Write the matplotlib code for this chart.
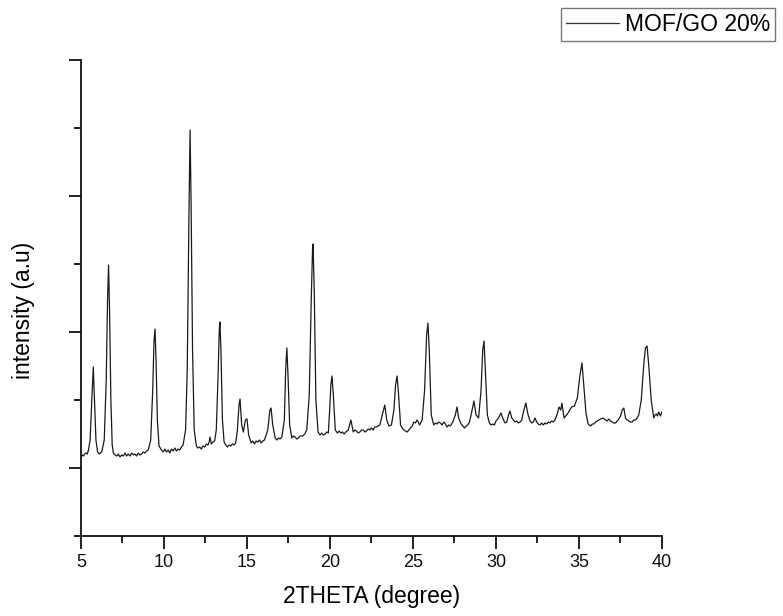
import matplotlib
matplotlib.use("Agg")
import matplotlib.pyplot as plt
from matplotlib.ticker import MultipleLocator

plt.rcParams['font.family'] = ['Liberation Sans', 'DejaVu Sans']

series_label = "MOF/GO 20%"
x_label = "2THETA (degree)"
y_label = "intensity (a.u)"

two_theta = [
    5.00, 5.08, 5.15, 5.22, 5.30, 5.38, 5.45, 5.55, 5.65, 5.74, 5.82, 5.90, 6.00, 6.10, 6.18, 6.25,
    6.40, 6.52, 6.60, 6.66, 6.72, 6.80, 6.88, 6.95, 7.05, 7.15, 7.25, 7.35, 7.45, 7.55, 7.65, 7.75,
    7.85, 7.95, 8.05, 8.15, 8.25, 8.35, 8.45, 8.55, 8.65, 8.75, 8.85, 8.95, 9.05, 9.20, 9.32, 9.40,
    9.46, 9.52, 9.60, 9.70, 9.85, 9.95, 10.05, 10.15, 10.25, 10.35, 10.45, 10.55, 10.65, 10.75, 10.85, 10.95,
    11.05, 11.15, 11.30, 11.40, 11.50, 11.57, 11.63, 11.72, 11.82, 11.95, 12.05, 12.15, 12.25, 12.35, 12.45, 12.55,
    12.65, 12.72, 12.77, 12.85, 12.95, 13.05, 13.15, 13.25, 13.33, 13.37, 13.43, 13.52, 13.62, 13.72, 13.82, 13.92,
    14.02, 14.12, 14.22, 14.32, 14.42, 14.52, 14.58, 14.68, 14.78, 14.90, 15.00, 15.10, 15.25, 15.35, 15.45, 15.55,
    15.65, 15.75, 15.85, 15.95, 16.05, 16.25, 16.38, 16.45, 16.55, 16.70, 16.80, 16.90, 17.00, 17.10, 17.25, 17.33,
    17.40, 17.47, 17.57, 17.70, 17.80, 17.90, 18.00, 18.10, 18.20, 18.35, 18.48, 18.60, 18.75, 18.87, 18.95, 18.98,
    19.05, 19.15, 19.28, 19.40, 19.50, 19.60, 19.70, 19.80, 19.90, 19.98, 20.05, 20.12, 20.20, 20.32, 20.45, 20.55,
    20.65, 20.75, 20.85, 20.95, 21.10, 21.26, 21.40, 21.50, 21.60, 21.70, 21.80, 21.90, 22.00, 22.10, 22.20, 22.30,
    22.40, 22.50, 22.60, 22.70, 22.80, 22.90, 23.00, 23.15, 23.30, 23.42, 23.55, 23.70, 23.85, 23.95, 24.04, 24.12,
    24.25, 24.35, 24.45, 24.55, 24.65, 24.75, 24.85, 24.95, 25.05, 25.15, 25.24, 25.32, 25.40, 25.55, 25.70, 25.82,
    25.90, 25.98, 26.10, 26.25, 26.35, 26.45, 26.55, 26.65, 26.75, 26.85, 26.95, 27.05, 27.15, 27.25, 27.40, 27.55,
    27.65, 27.75, 27.90, 28.00, 28.10, 28.20, 28.30, 28.40, 28.50, 28.67, 28.80, 28.95, 29.10, 29.20, 29.28, 29.36,
    29.48, 29.60, 29.70, 29.80, 29.90, 30.00, 30.15, 30.30, 30.45, 30.55, 30.65, 30.75, 30.84, 30.95, 31.05, 31.15,
    31.25, 31.35, 31.45, 31.55, 31.65, 31.80, 31.92, 32.05, 32.15, 32.25, 32.35, 32.45, 32.55, 32.65, 32.75, 32.85,
    32.95, 33.05, 33.15, 33.25, 33.35, 33.45, 33.55, 33.65, 33.80, 33.90, 33.97, 34.10, 34.20, 34.30, 34.45, 34.55,
    34.72, 34.90, 35.05, 35.18, 35.30, 35.42, 35.55, 35.70, 35.80, 35.90, 36.00, 36.10, 36.20, 36.30, 36.45, 36.60,
    36.70, 36.80, 36.90, 37.00, 37.10, 37.20, 37.30, 37.40, 37.50, 37.60, 37.70, 37.80, 37.90, 38.00, 38.10, 38.20,
    38.30, 38.40, 38.50, 38.60, 38.75, 38.90, 39.00, 39.10, 39.20, 39.35, 39.50, 39.58, 39.65, 39.72, 39.80, 39.90,
    40.00,
]

intensity = [
    11, 13, 12, 14, 15, 14, 18, 28, 68, 101, 63, 28, 16, 14, 15, 16,
    28, 88, 168, 203, 158, 68, 23, 15, 13, 12, 14, 11, 13, 12, 15, 12,
    14, 12, 15, 13, 14, 12, 15, 13, 14, 16, 15, 17, 18, 28, 78, 128,
    139, 108, 48, 22, 18, 16, 19, 16, 18, 15, 19, 17, 20, 17, 19, 18,
    21, 23, 38, 98, 248, 338, 268, 118, 38, 22, 20, 21, 19, 22, 21, 24,
    23, 26, 31, 24, 26, 27, 38, 88, 138, 146, 118, 48, 26, 23, 21, 23,
    22, 24, 23, 25, 38, 63, 69, 43, 36, 48, 49, 33, 25, 27, 24, 27,
    26, 28, 25, 27, 28, 38, 58, 60, 43, 30, 28, 30, 29, 31, 48, 98,
    120, 93, 43, 30, 32, 31, 29, 30, 32, 32, 34, 38, 73, 168, 220, 224,
    178, 68, 36, 33, 35, 33, 34, 36, 35, 58, 83, 92, 73, 38, 35, 37,
    35, 36, 34, 36, 38, 48, 36, 38, 37, 35, 36, 38, 38, 36, 37, 39,
    38, 40, 38, 41, 41, 42, 43, 53, 63, 48, 42, 43, 58, 83, 92, 76,
    43, 40, 38, 37, 36, 38, 40, 42, 46, 45, 48, 46, 43, 48, 78, 133,
    145, 118, 53, 43, 45, 44, 46, 45, 43, 46, 44, 41, 43, 42, 46, 53,
    61, 50, 44, 42, 40, 42, 43, 46, 53, 67, 53, 50, 78, 118, 127, 98,
    53, 45, 43, 44, 43, 47, 50, 55, 48, 45, 46, 53, 57, 50, 48, 46,
    47, 45, 46, 48, 56, 65, 54, 47, 45, 46, 50, 46, 44, 43, 45, 43,
    45, 44, 46, 45, 47, 46, 48, 52, 61, 58, 65, 50, 52, 54, 58, 61,
    62, 70, 92, 105, 80, 55, 44, 42, 44, 44, 46, 47, 48, 49, 50, 48,
    47, 49, 47, 46, 45, 45, 47, 49, 52, 58, 60, 50, 48, 47, 46, 46,
    48, 48, 50, 53, 68, 103, 120, 122, 103, 68, 50, 53, 54, 52, 56, 52,
    56,
]

fig = plt.figure(figsize=(7.83, 6.16), dpi=100)
ax = fig.add_axes([81 / 783, 80 / 616, (662 - 81) / 783, (536 - 60) / 616])

line, = ax.plot(two_theta, intensity, color="#1a1a1a", lw=0.9, label=series_label)

ax.set_xlim(5, 40)
ax.set_ylim(-68, 408)
ax.xaxis.set_major_locator(MultipleLocator(5))
ax.xaxis.set_minor_locator(MultipleLocator(2.5))
ax.yaxis.set_major_locator(MultipleLocator(136))
ax.yaxis.set_minor_locator(MultipleLocator(68))

for s in ["top", "right"]:
    ax.spines[s].set_visible(False)
for s in ["left", "bottom"]:
    ax.spines[s].set_linewidth(1.3)
    ax.spines[s].set_color("#111111")

ax.tick_params(axis="both", which="major", direction="out", length=9, width=1.3, colors="#111111")
ax.tick_params(axis="both", which="minor", direction="out", length=5, width=1.3, colors="#111111")
ax.tick_params(axis="x", which="major", labelsize=13, pad=4)
ax.tick_params(axis="y", which="both", labelleft=False)

ax.set_xlabel(x_label, fontsize=16.5, labelpad=10)
ax.set_ylabel(y_label, fontsize=16.5)
ax.yaxis.set_label_coords(-0.079, 0.475)

leg = fig.legend(handles=[line], loc="upper right", bbox_to_anchor=(775 / 783, 1 - 8 / 616),
                 fontsize=16.5, frameon=True, fancybox=False, handlelength=2.3,
                 handletextpad=0.25, borderpad=0.22, borderaxespad=0)
leg.get_frame().set_edgecolor("#555555")
leg.get_frame().set_linewidth(1.0)
leg.get_lines()[0].set_color("#333333")
leg.get_lines()[0].set_linewidth(0.9)

fig.savefig("out.png", dpi=100)
